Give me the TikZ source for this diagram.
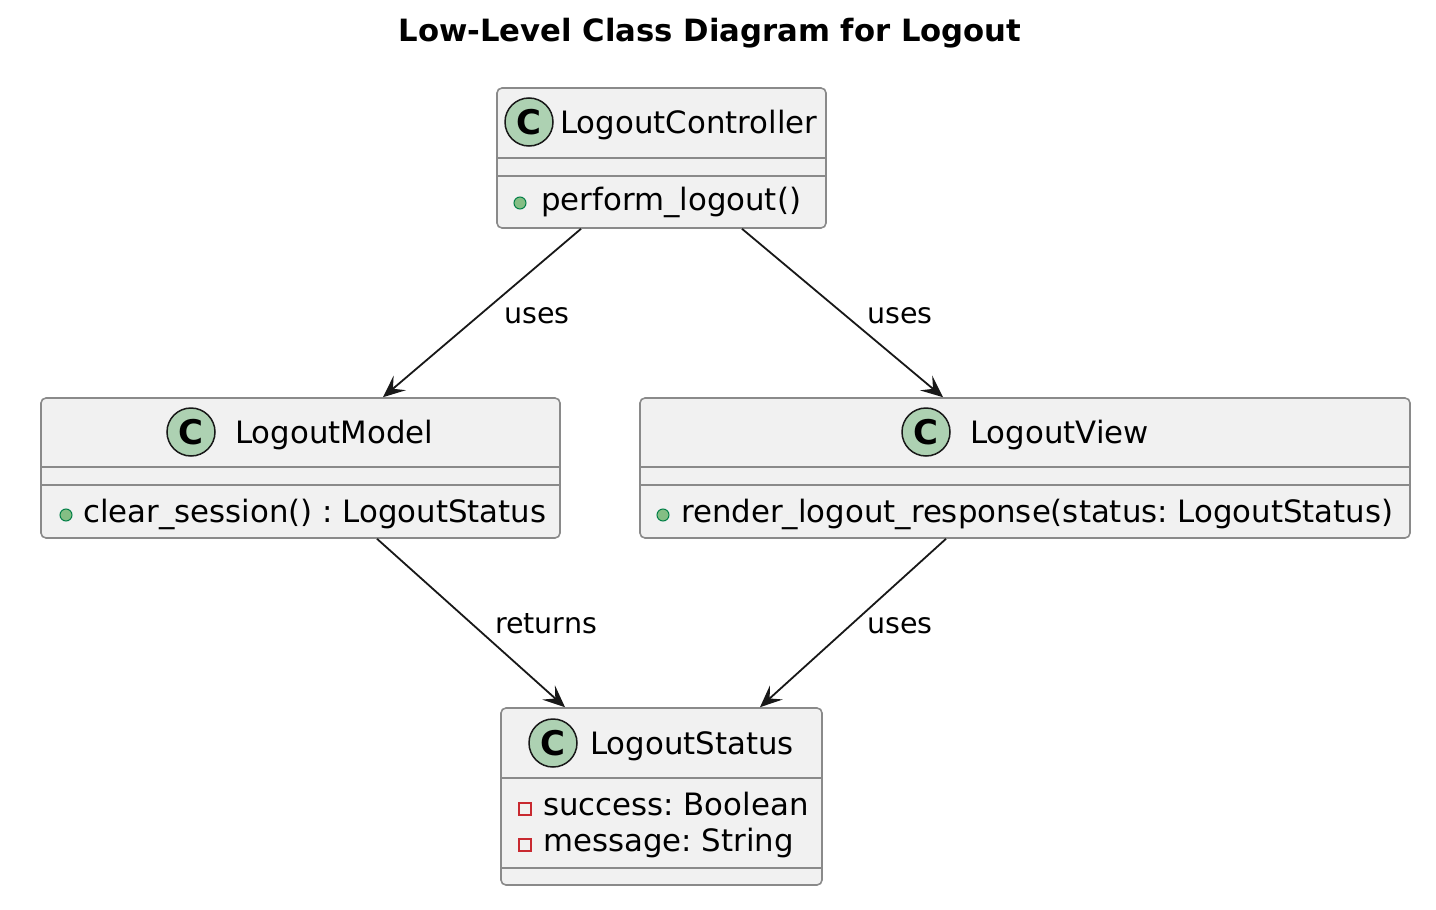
\documentclass[tikz,border=0pt]{standalone}
\usepackage{fontspec}
\setmainfont{DejaVu Sans}
\usetikzlibrary{arrows.meta}
\definecolor{boxfill}{HTML}{F1F1F1}
\definecolor{boxline}{HTML}{8A8A8A}
\definecolor{cfill}{HTML}{ADD1B2}
\definecolor{ink}{HTML}{181818}
\definecolor{dotfill}{HTML}{84BE84}
\definecolor{dotline}{HTML}{038048}
\definecolor{sqline}{HTML}{C82930}
\frenchspacing
\begin{document}
\begin{tikzpicture}[x=1pt,y=-1pt,
  classbox/.style={draw=boxline, fill=boxfill, line width=1.6pt, rounded corners=5pt, inner sep=0pt},
  sepline/.style={draw=boxline, line width=1.6pt},
  cbadge/.style={circle, draw=ink, fill=cfill, line width=1.5pt, minimum size=48pt, inner sep=0pt, font=\fontsize{34}{34}\bfseries\selectfont},
  txt/.style={inner sep=0pt, anchor=base west, font=\fontsize{30.8}{36}\selectfont, text=black},
  lbl/.style={inner sep=0pt, anchor=base, font=\fontsize{28.5}{34}\selectfont, text=black},
  pubdot/.style={circle, draw=dotline, fill=dotfill, line width=1pt, minimum size=12pt, inner sep=0pt},
  privsq/.style={rectangle, draw=sqline, line width=1.5pt, minimum size=12pt, inner sep=0pt},
  rel/.style={draw=ink, line width=1.8pt, -{Stealth[length=22pt,width=19pt,inset=9pt]}}
]
\useasboundingbox (0,0) rectangle (1436,910);
\fill[white] (0,0) rectangle (1436,910);

% title
\node[inner sep=0pt, anchor=base, font=\fontsize{30.7}{36}\bfseries\selectfont] (title) at (710,41) {Low-Level Class Diagram for Logout};

% boxes
\node[classbox, minimum width=329pt, minimum height=140pt] (ctrl) at (661.5,158) {};
\node[classbox, minimum width=519pt, minimum height=140pt] (model) at (300.5,468) {};
\node[classbox, minimum width=770pt, minimum height=140pt] (view) at (1025,468) {};
\node[classbox, minimum width=321pt, minimum height=177pt] (status) at (661.5,796.5) {};

% separators
\draw[sepline] (ctrl.west |- 0,158) -- (ctrl.east |- 0,158);
\draw[sepline] (ctrl.west |- 0,176) -- (ctrl.east |- 0,176);
\draw[sepline] (model.west |- 0,467) -- (model.east |- 0,467);
\draw[sepline] (model.west |- 0,485) -- (model.east |- 0,485);
\draw[sepline] (view.west |- 0,467) -- (view.east |- 0,467);
\draw[sepline] (view.west |- 0,485) -- (view.east |- 0,485);
\draw[sepline] (status.west |- 0,778) -- (status.east |- 0,778);
\draw[sepline] (status.west |- 0,868) -- (status.east |- 0,868);

% badges
\node[cbadge] (ctrlC) at (529,122) {C};
\node[cbadge] (modelC) at (191,432) {C};
\node[cbadge] (viewC) at (926,432) {C};
\node[cbadge] (statusC) at (553,743) {C};

% names
\node[txt] (ctrlN) at (560,133) {LogoutController};
\node[txt] (modelN) at (235,443) {LogoutModel};
\node[txt] (viewN) at (970,443) {LogoutView};
\node[txt] (statusN) at (590,754) {LogoutStatus};

% members
\node[pubdot] (ctrlD) at (520,203) {};
\node[txt] (ctrlM) at (541,210) {perform\_logout()};
\node[pubdot] (modelD) at (66,515) {};
\node[txt] (modelM) at (83,522) {clear\_session() : LogoutStatus};
\node[pubdot] (viewD) at (663,515) {};
\node[txt] (viewM) at (681,522) {render\_logout\_response(status: LogoutStatus)};
\node[privsq] (statusS1) at (525,809) {};
\node[txt] (statusA1) at (543,815) {success: Boolean};
\node[privsq] (statusS2) at (525,845) {};
\node[txt] (statusA2) at (543,851) {message: String};

% relations
\draw[rel] ([xshift=-80.5pt]ctrl.south) -- ([xshift=82.5pt]model.north);
\draw[rel] ([xshift=80.5pt]ctrl.south) -- ([xshift=-82pt]view.north);
\draw[rel] ([xshift=76.5pt]model.south) -- ([xshift=-96.5pt]status.north);
\draw[rel] ([xshift=-79pt]view.south) -- ([xshift=98.5pt]status.north);

% labels
\node[lbl] (l1) at (537,323) {uses};
\node[lbl] (l2) at (900,323) {uses};
\node[lbl] (l3) at (546,633) {returns};
\node[lbl] (l4) at (900,633) {uses};
\end{tikzpicture}
\end{document}
